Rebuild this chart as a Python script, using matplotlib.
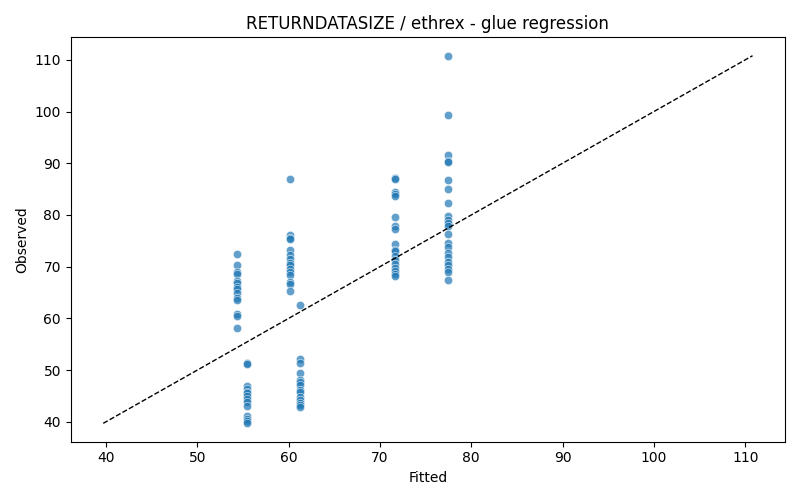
import numpy as np
import matplotlib.pyplot as plt
import seaborn as sns

fit_a = 54.3
obs_a = [72.4, 70.3, 69.0, 68.6, 67.3, 66.8, 66.1, 65.6, 65.0, 64.0, 63.6, 60.8, 60.5, 58.2]
fit_b = 55.4
obs_b = [51.3, 51.1, 47.0, 46.4, 45.8, 45.5, 45.0, 44.4, 43.8, 43.0, 41.2, 40.6, 40.2, 39.7]
fit_c = 60.1
obs_c = [87.0, 76.1, 75.6, 75.3, 73.3, 72.3, 71.5, 70.8, 70.4, 69.5, 68.9, 68.4, 67.0, 66.7, 65.3]
fit_d = 61.2
obs_d = [62.5, 52.1, 51.3, 49.4, 48.0, 47.6, 47.1, 46.1, 45.8, 44.7, 44.3, 43.6, 43.2, 42.8]
fit_e = 71.7
obs_e = [87.1, 86.9, 84.5, 84.0, 83.7, 79.6, 77.8, 77.3, 74.4, 73.3, 73.0, 72.1, 71.2,
         70.6, 69.7, 69.1, 68.6, 68.1]
fit_f = 77.5
obs_f = [110.8, 99.3, 91.6, 90.4, 90.2, 86.7, 85.0, 82.3, 79.8, 79.0, 78.4, 77.8, 76.4,
         74.6, 73.8, 72.6, 71.8, 71.0, 70.4, 69.6, 68.9, 67.4]

fitted = []
observed = []
for f, obs in [(fit_a, obs_a), (fit_b, obs_b), (fit_c, obs_c),
               (fit_d, obs_d), (fit_e, obs_e), (fit_f, obs_f)]:
    fitted += [f] * len(obs)
    observed += obs
fitted = np.array(fitted)
observed = np.array(observed)

fig, ax = plt.subplots(figsize=(8, 5), dpi=100)
sns.scatterplot(x=fitted, y=observed, alpha=0.7, ax=ax)
lo = min(fitted.min(), observed.min())
hi = max(fitted.max(), observed.max())
ax.plot([lo, hi], [lo, hi], 'k--', lw=1)
ax.set_xlabel("Fitted")
ax.set_ylabel("Observed")
ax.set_title("RETURNDATASIZE / ethrex - glue regression")
fig.tight_layout()
fig.savefig("out.png")
